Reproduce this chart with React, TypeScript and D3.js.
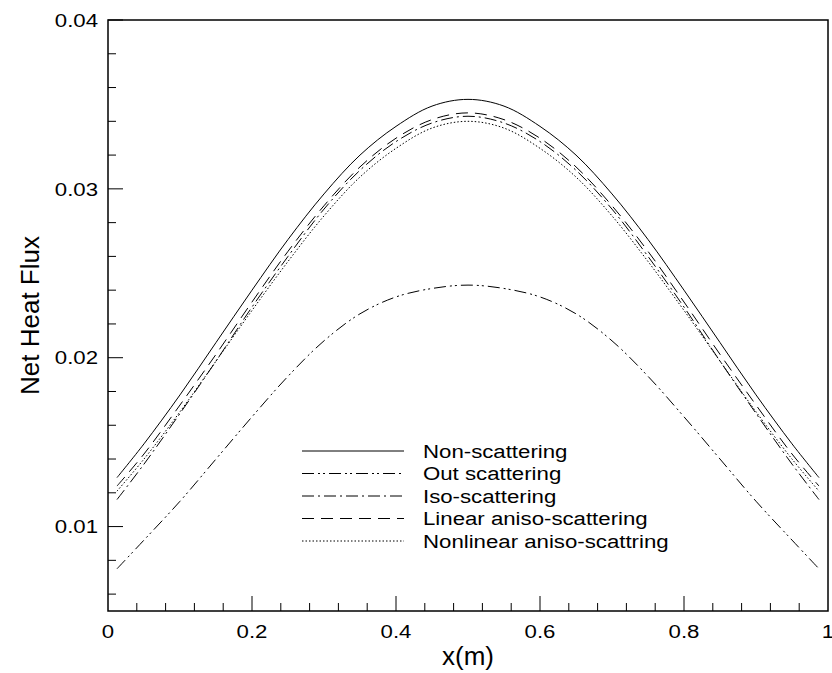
import React from "react";
import * as d3 from "d3";

const xs = [0.0125, 0.05, 0.1, 0.15, 0.2, 0.25, 0.3, 0.35, 0.4, 0.45, 0.5, 0.55, 0.6, 0.65, 0.7, 0.75, 0.8, 0.85, 0.9, 0.95, 0.9875];

const nonScattering = [0.0129, 0.0149, 0.0178, 0.0209, 0.0240, 0.0270, 0.0297, 0.0320, 0.0337, 0.0349, 0.0353, 0.0349, 0.0337, 0.0320, 0.0297, 0.0270, 0.0240, 0.0209, 0.0178, 0.0149, 0.0129];
const outScattering = [0.0075, 0.0092, 0.0115, 0.0140, 0.0165, 0.0189, 0.0210, 0.0226, 0.0236, 0.0241, 0.0243, 0.0241, 0.0236, 0.0226, 0.0210, 0.0189, 0.0165, 0.0140, 0.0115, 0.0092, 0.0075];
const isoScattering = [0.0116, 0.0137, 0.0167, 0.0198, 0.0230, 0.0260, 0.0288, 0.0311, 0.0328, 0.0339, 0.0343, 0.0339, 0.0328, 0.0311, 0.0288, 0.0260, 0.0230, 0.0198, 0.0167, 0.0137, 0.0116];
const linearAniso = [0.0124, 0.0143, 0.0172, 0.0202, 0.0233, 0.0263, 0.0290, 0.0313, 0.0330, 0.0341, 0.0345, 0.0341, 0.0330, 0.0313, 0.0290, 0.0263, 0.0233, 0.0202, 0.0172, 0.0143, 0.0124];
const nonlinearAniso = [0.0121, 0.0140, 0.0168, 0.0198, 0.0228, 0.0257, 0.0284, 0.0307, 0.0324, 0.0336, 0.0340, 0.0336, 0.0324, 0.0307, 0.0284, 0.0257, 0.0228, 0.0198, 0.0168, 0.0140, 0.0121];

const seriesNames = ["Non-scattering", "Out scattering", "Iso-scattering", "Linear aniso-scattering", "Nonlinear aniso-scattring"];
const seriesValues = [nonScattering, outScattering, isoScattering, linearAniso, nonlinearAniso];
const dashes = ["none", "12,4,2,3,2,4", "12,4,2,4", "12,7", "1.5,2"];

const xMajor = [0, 0.2, 0.4, 0.6, 0.8, 1];
const xMajorLabels = ["0", "0.2", "0.4", "0.6", "0.8", "1"];
const yMajor = [0.01, 0.02, 0.03, 0.04];
const yMajorLabels = ["0.01", "0.02", "0.03", "0.04"];

export default function App() {
  const W = 832, H = 673;
  const L = 108, R = 828, T = 20, B = 611;
  const x = d3.scaleLinear().domain([0, 1]).range([L, R]);
  const y = d3.scaleLinear().domain([0.005, 0.04]).range([B, T]);
  const xMinor = d3.range(0, 1.0001, 0.04).filter(v => Math.abs(v * 5 - Math.round(v * 5)) > 1e-6);
  const yMinor = d3.range(0.006, 0.0401, 0.002).filter(v => Math.abs(v * 100 - Math.round(v * 100)) > 1e-6);
  const line = d3.line<number>().x((_, i) => x(xs[i])).y(d => y(d)).curve(d3.curveCatmullRom);
  const font = "Liberation Sans, Arial, sans-serif";
  const legX1 = 302, legX2 = 404, legTx = 423, legY0 = 451, legDy = 22.5;
  const sx = 1.17;
  return (
    <svg width={W} height={H} style={{ position: "absolute", left: 0, top: 0, background: "#fff" }} fontFamily={font}>
      <rect x={0} y={0} width={W} height={H} fill="#fff" />
      {seriesValues.map((vals, i) => (
        <path key={i} d={line(vals) || ""} fill="none" stroke="#000" strokeWidth={1} strokeDasharray={dashes[i]} />
      ))}
      <rect x={L} y={T} width={R - L} height={B - T} fill="none" stroke="#000" strokeWidth={1.5} />
      {xMajor.map((v, i) => (
        <g key={"xm" + i}>
          {v > 0 && v < 1 && <line x1={x(v)} x2={x(v)} y1={B} y2={B - 15} stroke="#000" strokeWidth={1} />}
          <text transform={`translate(${x(v)},${B + 27}) scale(${sx},1)`} textAnchor="middle" fontSize={19}>{xMajorLabels[i]}</text>
        </g>
      ))}
      {xMinor.map((v, i) => (
        <line key={"xn" + i} x1={x(v)} x2={x(v)} y1={B} y2={B - 8} stroke="#000" strokeWidth={1} />
      ))}
      {yMajor.map((v, i) => (
        <g key={"ym" + i}>
          <line x1={L} x2={L + 15} y1={y(v)} y2={y(v)} stroke="#000" strokeWidth={1} />
          <text transform={`translate(98,${y(v)}) scale(${sx},1)`} dy="0.35em" textAnchor="end" fontSize={19}>{yMajorLabels[i]}</text>
        </g>
      ))}
      {yMinor.map((v, i) => (
        <line key={"yn" + i} x1={L} x2={L + 8} y1={y(v)} y2={y(v)} stroke="#000" strokeWidth={1} />
      ))}
      <text x={468} y={665} textAnchor="middle" fontSize={26}>x(m)</text>
      <text transform={`translate(30,${(T + B) / 2}) rotate(-90)`} dy="0.35em" textAnchor="middle" fontSize={26}>Net Heat Flux</text>
      {seriesNames.map((n, i) => (
        <g key={"lg" + i}>
          <line x1={legX1} x2={legX2} y1={legY0 + i * legDy} y2={legY0 + i * legDy} stroke="#000" strokeWidth={1} strokeDasharray={dashes[i]} />
          <text transform={`translate(${legTx},${legY0 + i * legDy}) scale(${sx},1)`} dy="0.35em" fontSize={19}>{n}</text>
        </g>
      ))}
    </svg>
  );
}
